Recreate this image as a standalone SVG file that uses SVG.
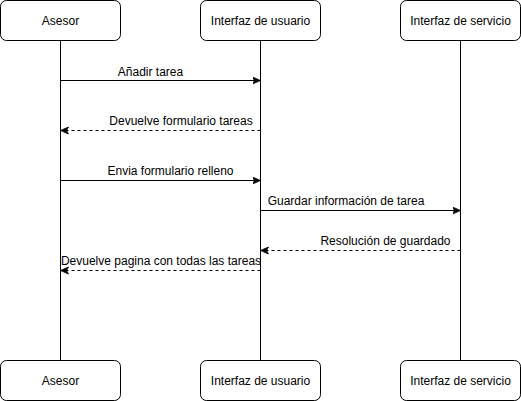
<svg xmlns="http://www.w3.org/2000/svg" width="521" height="401" viewBox="0 0 521 401">
<style>
.box{fill:#fff;stroke:#000;stroke-width:1}
.life{stroke:#000;stroke-width:1;fill:none}
.msg{stroke:#000;stroke-width:1;fill:none}
.dash{stroke-dasharray:3 3}
text{font-family:"Liberation Sans",Arial,sans-serif;font-size:12px;fill:#000}
.c{text-anchor:middle}
</style>
<defs>
<marker id="ah" markerUnits="userSpaceOnUse" markerWidth="10" markerHeight="10" refX="8" refY="4" orient="auto">
<path d="M0,0.5 L8,4 L0,7.5 L2,4 Z" fill="#000" stroke="#000" stroke-width="0.8"/>
</marker>
</defs>
<rect width="521" height="401" fill="#fff"/>
<g id="lifelines">
<line class="life" x1="60.5" y1="40.5" x2="60.5" y2="360.5"/>
<line class="life" x1="260.5" y1="40.5" x2="260.5" y2="360.5"/>
<line class="life" x1="460.5" y1="40.5" x2="460.5" y2="360.5"/>
</g>
<g id="asesor-top"><rect class="box" x="0.5" y="0.5" width="120" height="40" rx="6"/><text class="c" x="60.5" y="24.5">Asesor</text></g>
<g id="ui-top"><rect class="box" x="200.5" y="0.5" width="120" height="40" rx="6"/><text class="c" x="260.5" y="24.5">Interfaz de usuario</text></g>
<g id="svc-top"><rect class="box" x="400.5" y="0.5" width="120" height="40" rx="6"/><text class="c" x="460.5" y="24.5">Interfaz de servicio</text></g>
<g id="asesor-bottom"><rect class="box" x="0.5" y="360.5" width="120" height="40" rx="6"/><text class="c" x="60.5" y="384.5">Asesor</text></g>
<g id="ui-bottom"><rect class="box" x="200.5" y="360.5" width="120" height="40" rx="6"/><text class="c" x="260.5" y="384.5">Interfaz de usuario</text></g>
<g id="svc-bottom"><rect class="box" x="400.5" y="360.5" width="120" height="40" rx="6"/><text class="c" x="460.5" y="384.5">Interfaz de servicio</text></g>
<g id="connectors">
<line class="msg" x1="60.5" y1="80.5" x2="260.5" y2="80.5" marker-end="url(#ah)"/>
<text class="c" x="150.5" y="76">Añadir tarea</text>
<line class="msg dash" x1="260.5" y1="130.5" x2="60.5" y2="130.5" marker-end="url(#ah)"/>
<text class="c" x="181" y="125">Devuelve formulario tareas</text>
<line class="msg" x1="60.5" y1="180.5" x2="260.5" y2="180.5" marker-end="url(#ah)"/>
<text class="c" x="170.5" y="175">Envia formulario relleno</text>
<line class="msg" x1="260.5" y1="210.5" x2="460.5" y2="210.5" marker-end="url(#ah)"/>
<text class="c" x="346" y="205">Guardar información de tarea</text>
<line class="msg dash" x1="460.5" y1="250.5" x2="260.5" y2="250.5" marker-end="url(#ah)"/>
<text class="c" x="385.5" y="245">Resolución de guardado</text>
<line class="msg dash" x1="260.5" y1="270.5" x2="60.5" y2="270.5" marker-end="url(#ah)"/>
<text class="c" x="161" y="265">Devuelve pagina con todas las tareas</text>
</g>
</svg>
